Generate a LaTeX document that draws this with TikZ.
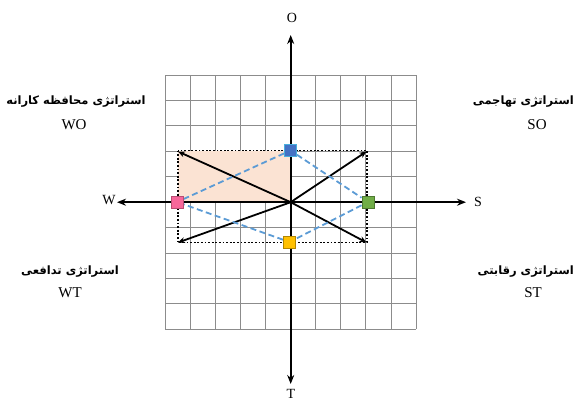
\documentclass[tikz,border=0pt]{standalone}
\usepackage{fontspec}
\setmainfont{Liberation Serif}
\newfontfamily\arabicfont[Script=Arabic]{DejaVu Sans}
\TeXXeTstate=1
\usetikzlibrary{arrows.meta}
\definecolor{gridgray}{HTML}{8C8C8C}
\definecolor{peach}{HTML}{FBE3D3}
\definecolor{dashblue}{HTML}{5B9BD5}
\definecolor{sqblue}{HTML}{4472C4}
\definecolor{sqpink}{HTML}{F7679A}
\definecolor{sqgreen}{HTML}{70AD47}
\definecolor{sqyellow}{HTML}{FFC000}
\tikzset{
  gridline/.style={gridgray, line width=0.8pt},
  axis/.style={line width=2.2pt, -{Stealth[length=9pt,width=7pt]}},
  vec/.style={line width=1.8pt, -{Stealth[length=7pt,width=6pt]}},
  dottedbox/.style={line width=1.8pt, dash pattern=on 1.8pt off 1.8pt},
  dashlink/.style={dashblue, line width=1.8pt, dash pattern=on 6pt off 3.5pt},
  marker/.style={minimum size=12pt, inner sep=0pt, line width=0.9pt},
  axlabel/.style={font=\fontsize{14}{16}\selectfont},
  arlabel/.style={font=\arabicfont\bfseries\fontsize{11.5}{14}\selectfont},
  codelabel/.style={font=\fontsize{15}{17}\selectfont}
}
\begin{document}
\begin{tikzpicture}[x=1pt,y=-1pt]
\useasboundingbox (0,0) rectangle (576,402);
\clip (0,0) rectangle (576,402);
% grid
\foreach \i in {0,...,10} {
  \draw[gridline] ({165.3+\i*25.07},75) -- ({165.3+\i*25.07},329.3);
  \draw[gridline] (165.3,{75+\i*25.43}) -- (416,{75+\i*25.43});
}
% shaded quadrant
\fill[peach] (177.7,150.5) rectangle (290.7,202.2);
% dotted rectangle
\draw[dottedbox] (177.7,150.5) rectangle (367,242.5);
% axes
\coordinate (o) at (290.7,202.2);
\coordinate (wend) at (117,202.2);
\coordinate (send) at (466,202.2);
\coordinate (oend) at (290.7,35);
\coordinate (tend) at (290.7,384);
\draw[axis] (o) -- (wend);
\draw[axis] (o) -- (send);
\draw[axis] (o) -- (oend);
\draw[axis] (o) -- (tend);
\node[axlabel] (lw) at (109,200) {W};
\node[axlabel] (ls) at (478,202) {S};
\node[axlabel] (lo) at (292,18) {O};
\node[axlabel] (lt) at (291,394) {T};
% vectors to corners
\coordinate (c1) at (178,151.5);
\coordinate (c2) at (366.5,151.5);
\coordinate (c3) at (178,242.5);
\coordinate (c4) at (366.5,242.5);
\draw[vec] (o) -- (c1);
\draw[vec] (o) -- (c2);
\draw[vec] (o) -- (c3);
\draw[vec] (o) -- (c4);
% markers
\coordinate (po) at (290.5,150.5);
\coordinate (pw) at (177,202);
\coordinate (ps) at (368,202);
\coordinate (pt) at (289.5,242);
\node[marker] (mo) at (po) {};
\node[marker] (mw) at (pw) {};
\node[marker] (ms) at (ps) {};
\node[marker] (mt) at (pt) {};
\draw[dashlink] (mw) -- (mo);
\draw[dashlink] (mo) -- (ms);
\draw[dashlink] (ms) -- (mt);
\draw[dashlink] (mt) -- (mw);
\node[marker, fill=sqblue, draw=dashblue!80!cyan] (fo) at (po) {};
\node[marker, fill=sqpink, draw=sqpink!75!black] (fw) at (pw) {};
\node[marker, fill=sqgreen, draw=sqgreen!70!black] (fs) at (ps) {};
\node[marker, fill=sqyellow, draw=sqyellow!70!black] (ft) at (pt) {};
% quadrant labels
\node[arlabel] (awo) at (76,102) {\beginR استراتژی محافظه کارانه\endR};
\node[codelabel] (wo) at (74,125) {WO};
\node[arlabel, anchor=east, inner sep=0pt] (aso) at (574,102) {\beginR استراتژی تهاجمی\endR};
\node[codelabel] (so) at (537,125) {SO};
\node[arlabel] (awt) at (70,272) {\beginR استراتژی تدافعی\endR};
\node[codelabel] (wt) at (70,293) {WT};
\node[arlabel, anchor=east, inner sep=0pt] (ast) at (574,272) {\beginR استراتژی رقابتی\endR};
\node[codelabel] (st) at (533,293) {ST};
\end{tikzpicture}
\end{document}
